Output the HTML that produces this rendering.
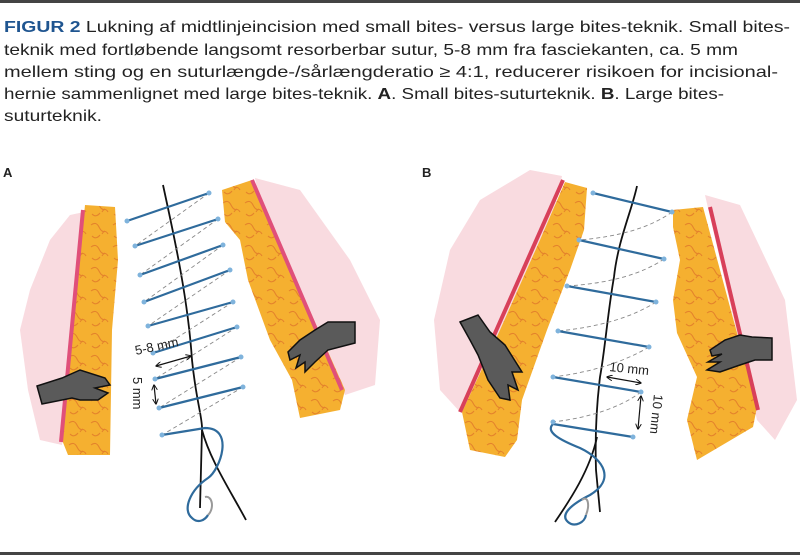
<!DOCTYPE html>
<html><head><meta charset="utf-8"><style>
html,body{margin:0;padding:0;background:#fff;}
svg{display:block;}
text{font-family:"Liberation Sans",sans-serif;}
</style></head><body>
<svg width="800" height="556" viewBox="0 0 800 556" xmlns="http://www.w3.org/2000/svg">
<defs>
<marker id="ar" viewBox="0 0 10 10" refX="9" refY="5" markerWidth="5" markerHeight="5" orient="auto-start-reverse"><path d="M0,0 L10,5 L0,10" fill="none" stroke="#111" stroke-width="1.6"/></marker>
<pattern id="sw" width="22" height="22" patternUnits="userSpaceOnUse"><path d="M3,5 q5,-4 8,2 t6,4 M4,16 q4,4 8,-1 M14,14 q3,-5 6,0" fill="none" stroke="#e0782a" stroke-width="1.1" opacity="0.8"/></pattern>
</defs>
<rect x="0" y="0" width="800" height="3" fill="#444"/>
<rect x="0" y="552" width="800" height="3" fill="#444"/>
<g font-size="16" fill="#222">
<text x="4" y="32" textLength="786" lengthAdjust="spacingAndGlyphs"><tspan fill="#1f5590" font-weight="bold">FIGUR 2</tspan> Lukning af midtlinjeincision med small bites- versus large bites-teknik. Small bites-</text>
<text x="4" y="55" textLength="734" lengthAdjust="spacingAndGlyphs">teknik med fortløbende langsomt resorberbar sutur, 5-8 mm fra fasciekanten, ca. 5 mm</text>
<text x="4" y="77" textLength="774" lengthAdjust="spacingAndGlyphs">mellem sting og en suturlængde-/sårlængderatio ≥ 4:1, reducerer risikoen for incisional-</text>
<text x="4" y="99" textLength="720" lengthAdjust="spacingAndGlyphs">hernie sammenlignet med large bites-teknik. <tspan font-weight="bold">A</tspan>. Small bites-suturteknik. <tspan font-weight="bold">B</tspan>. Large bites-</text>
<text x="4" y="121" textLength="98" lengthAdjust="spacingAndGlyphs">suturteknik.</text>
</g>
<text x="3" y="177" font-size="13" font-weight="bold" fill="#222">A</text>
<text x="422" y="177" font-size="13" font-weight="bold" fill="#222">B</text>

<!-- Panel A tissue -->
<path d="M70,215 L84,212 L62,445 L40,440 L28,390 L20,330 L30,290 L50,240 Z" fill="#f9dbe0"/>
<path d="M85,205 L115,207 L118,260 L112,330 L110,455 L68,455 L62,440 Z" fill="#f5b030"/>
<path d="M85,205 L115,207 L118,260 L112,330 L110,455 L68,455 L62,440 Z" fill="url(#sw)"/>
<line x1="83" y1="210" x2="61" y2="442" stroke="#e0507a" stroke-width="4"/>
<path d="M255,178 L300,190 L350,260 L380,320 L375,385 L345,395 L300,300 L262,215 Z" fill="#f9dbe0"/>
<path d="M222,190 L252,180 L345,390 L340,410 L300,418 L292,380 L270,340 L248,280 L240,240 L225,222 Z" fill="#f5b030"/>
<path d="M222,190 L252,180 L345,390 L340,410 L300,418 L292,380 L270,340 L248,280 L240,240 L225,222 Z" fill="url(#sw)"/>
<line x1="252" y1="180" x2="342" y2="390" stroke="#e0507a" stroke-width="4"/>
<!-- hands A -->
<path d="M37,386 L62,378 L80,370 L105,378 L110,385 L95,388 L108,393 L98,400 L80,400 L72,398 L42,404 Z" fill="#5a5a5a" stroke="#111" stroke-width="1.5"/>
<path d="M355,322 L328,322 L315,330 L300,340 L288,352 L290,360 L300,355 L296,368 L305,362 L305,372 L315,362 L328,350 L355,343 Z" fill="#5a5a5a" stroke="#111" stroke-width="1.5"/>

<!-- Panel A sutures -->
<path d="M163,185 C175,240 188,300 192,360 C196,400 203,420 202,430 L200,508" fill="none" stroke="#111" stroke-width="1.8"/>
<path d="M202,430 C210,460 230,490 246,520" fill="none" stroke="#111" stroke-width="1.8"/>
<g stroke="#888" stroke-width="0.9" stroke-dasharray="4,3" fill="none">
<line x1="209" y1="193" x2="135" y2="246"/><line x1="218" y1="219" x2="140" y2="275"/><line x1="223" y1="245" x2="144" y2="302"/><line x1="230" y1="270" x2="148" y2="326"/><line x1="233" y1="302" x2="153" y2="353"/><line x1="237" y1="327" x2="155" y2="379"/><line x1="241" y1="357" x2="159" y2="408"/><line x1="243" y1="387" x2="162" y2="435"/>
</g>
<g stroke="#2f6b9c" stroke-width="2.2" fill="none">
<line x1="127" y1="221" x2="209" y2="193"/><line x1="135" y1="246" x2="218" y2="219"/><line x1="140" y1="275" x2="223" y2="245"/><line x1="144" y1="302" x2="230" y2="270"/><line x1="148" y1="326" x2="233" y2="302"/><line x1="153" y1="353" x2="237" y2="327"/><line x1="155" y1="379" x2="241" y2="357"/><line x1="159" y1="408" x2="243" y2="387"/>
<path d="M162,435 L205,428 C235,428 220,470 208,478 C190,490 182,510 192,518 C198,524 205,520 208,515"/>
</g>
<path d="M208,515 C215,508 212,495 205,497" fill="none" stroke="#999" stroke-width="2"/>
<g fill="#7fb3dc"><circle cx="127" cy="221" r="2.5"/><circle cx="135" cy="246" r="2.5"/><circle cx="140" cy="275" r="2.5"/><circle cx="144" cy="302" r="2.5"/><circle cx="148" cy="326" r="2.5"/><circle cx="153" cy="353" r="2.5"/><circle cx="155" cy="379" r="2.5"/><circle cx="159" cy="408" r="2.5"/><circle cx="162" cy="435" r="2.5"/>
<circle cx="209" cy="193" r="2.5"/><circle cx="218" cy="219" r="2.5"/><circle cx="223" cy="245" r="2.5"/><circle cx="230" cy="270" r="2.5"/><circle cx="233" cy="302" r="2.5"/><circle cx="237" cy="327" r="2.5"/><circle cx="241" cy="357" r="2.5"/><circle cx="243" cy="387" r="2.5"/></g>
<text x="136" y="355" font-size="13" fill="#222" transform="rotate(-12 136 355)">5-8 mm</text>
<line x1="156" y1="366" x2="191" y2="356" stroke="#111" stroke-width="1.2" marker-start="url(#ar)" marker-end="url(#ar)"/>
<text x="133" y="377" font-size="13" fill="#222" transform="rotate(90 133 377)">5 mm</text>
<line x1="154" y1="385" x2="156" y2="404" stroke="#111" stroke-width="1.2" marker-start="url(#ar)" marker-end="url(#ar)"/>

<!-- Panel B tissue -->
<path d="M530,170 L562,176 L540,270 L460,412 L440,390 L434,320 L450,250 L480,200 Z" fill="#f9dbe0"/>
<path d="M565,182 L587,188 L584,230 L570,270 L547,330 L522,400 L517,440 L505,457 L470,450 L462,412 L500,330 L540,240 Z" fill="#f5b030"/>
<path d="M565,182 L587,188 L584,230 L570,270 L547,330 L522,400 L517,440 L505,457 L470,450 L462,412 L500,330 L540,240 Z" fill="url(#sw)"/>
<line x1="563" y1="180" x2="460" y2="412" stroke="#d8405a" stroke-width="4"/>
<path d="M705,195 L740,205 L785,300 L797,400 L775,440 L757,420 Z" fill="#f9dbe0"/>
<path d="M673,210 L703,207 L757,407 L753,427 L697,460 L687,420 L697,377 L677,333 L673,300 L680,260 L673,227 Z" fill="#f5b030"/>
<path d="M673,210 L703,207 L757,407 L753,427 L697,460 L687,420 L697,377 L677,333 L673,300 L680,260 L673,227 Z" fill="url(#sw)"/>
<line x1="710" y1="207" x2="758" y2="410" stroke="#d8405a" stroke-width="4"/>
<!-- hands B -->
<path d="M460,322 L478,315 L490,332 L505,345 L522,372 L512,372 L518,390 L508,385 L510,400 L500,398 L488,380 L478,355 L470,340 Z" fill="#5a5a5a" stroke="#111" stroke-width="1.5"/>
<path d="M772,338 L752,337 L740,335 L725,340 L710,350 L712,356 L722,354 L708,362 L720,362 L707,370 L720,372 L740,365 L755,360 L772,360 Z" fill="#5a5a5a" stroke="#111" stroke-width="1.5"/>

<!-- Panel B sutures -->
<path d="M637,186 C632,210 618,240 614,277 C608,310 605,350 600,377 C596,410 595,440 596,470 L600,512" fill="none" stroke="#111" stroke-width="1.8"/>
<path d="M597,437 C590,470 570,500 555,522" fill="none" stroke="#111" stroke-width="1.8"/>
<g stroke="#888" stroke-width="0.9" stroke-dasharray="4,3" fill="none">
<path d="M672,212 Q640,235 579,240"/><path d="M664,259 Q630,282 567,286"/><path d="M656,302 Q620,325 558,331"/><path d="M649,347 Q610,370 553,377"/><path d="M641,392 Q610,415 553,422"/>
</g>
<g stroke="#2f6b9c" stroke-width="2.2" fill="none">
<line x1="593" y1="193" x2="672" y2="212"/><line x1="579" y1="240" x2="664" y2="259"/><line x1="567" y1="286" x2="656" y2="302"/><line x1="558" y1="331" x2="649" y2="347"/><line x1="553" y1="377" x2="641" y2="392"/><line x1="553" y1="424" x2="633" y2="437"/>
<path d="M553,424 C545,432 560,440 580,448 C605,460 615,480 590,495 C570,505 560,515 568,522 C575,528 585,522 586,515"/>
</g>
<path d="M586,515 C590,505 588,495 582,500" fill="none" stroke="#999" stroke-width="2"/>
<g fill="#7fb3dc"><circle cx="593" cy="193" r="2.5"/><circle cx="579" cy="240" r="2.5"/><circle cx="567" cy="286" r="2.5"/><circle cx="558" cy="331" r="2.5"/><circle cx="553" cy="377" r="2.5"/><circle cx="553" cy="422" r="2.5"/>
<circle cx="672" cy="212" r="2.5"/><circle cx="664" cy="259" r="2.5"/><circle cx="656" cy="302" r="2.5"/><circle cx="649" cy="347" r="2.5"/><circle cx="641" cy="392" r="2.5"/><circle cx="633" cy="437" r="2.5"/></g>
<text x="609" y="371" font-size="13" fill="#222" transform="rotate(6 609 371)">10 mm</text>
<line x1="607" y1="377" x2="641" y2="383" stroke="#111" stroke-width="1.2" marker-start="url(#ar)" marker-end="url(#ar)"/>
<text x="654" y="394" font-size="13" fill="#222" transform="rotate(96 654 394)">10 mm</text>
<line x1="641" y1="396" x2="638" y2="429" stroke="#111" stroke-width="1.2" marker-start="url(#ar)" marker-end="url(#ar)"/>
</svg>
</body></html>
